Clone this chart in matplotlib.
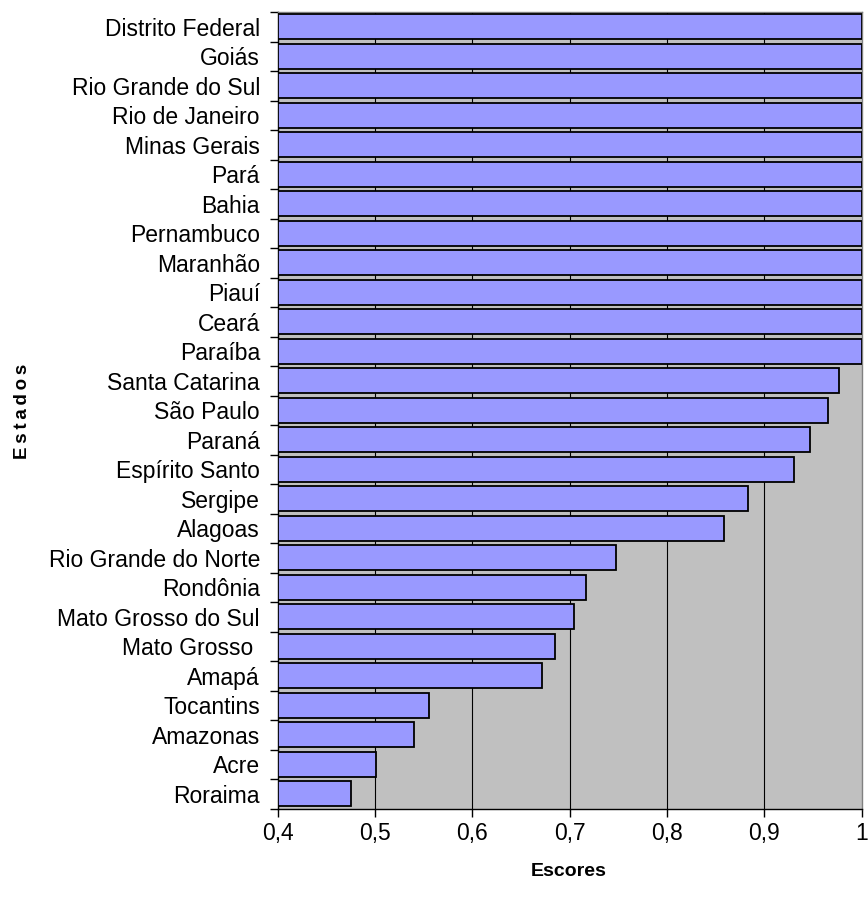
import matplotlib
matplotlib.use("Agg")
import matplotlib.pyplot as plt
import numpy as np

estados = ["Distrito Federal", "Goiás", "Rio Grande do Sul", "Rio de Janeiro",
           "Minas Gerais", "Pará", "Bahia", "Pernambuco", "Maranhão", "Piauí",
           "Ceará", "Paraíba", "Santa Catarina", "São Paulo", "Paraná",
           "Espírito Santo", "Sergipe", "Alagoas", "Rio Grande do Norte",
           "Rondônia", "Mato Grosso do Sul", "Mato Grosso ", "Amapá",
           "Tocantins", "Amazonas", "Acre", "Roraima"]
escores = [1.0, 1.0, 1.0, 1.0, 1.0, 1.0, 1.0, 1.0, 1.0, 1.0, 1.0, 1.0,
           0.977, 0.966, 0.947, 0.931, 0.883, 0.859, 0.748, 0.717, 0.704,
           0.685, 0.671, 0.555, 0.540, 0.501, 0.475]
xticks = [0.4, 0.5, 0.6, 0.7, 0.8, 0.9, 1.0]
xticklabels = ["0,4", "0,5", "0,6", "0,7", "0,8", "0,9", "1"]

plt.rcParams['font.family'] = ['Liberation Sans', 'DejaVu Sans']

fig = plt.figure(figsize=(8.68, 9.09), dpi=100)
ax = fig.add_axes([278/868, 1 - 808.5/909, (861.5-278)/868, (808.5-12)/909])
ax.set_facecolor('#C0C0C0')

n = len(estados)
y = np.arange(n)[::-1]
x0 = 0.4
ax.barh(y, np.array(escores) - x0, left=x0, height=0.86, color='#9999FF',
        edgecolor='black', linewidth=1.3, zorder=3)

ax.set_xlim(0.4, 1.0)
ax.set_ylim(-0.5, n - 0.5)
ax.set_xticks(xticks)
ax.set_xticklabels(xticklabels, fontsize=16.5)
for xv in xticks[1:-1]:
    ax.axvline(xv, color='black', linewidth=0.8, zorder=1)

# category boundaries as major ticks, labels at minor ticks
ax.set_yticks(np.arange(-0.5, n, 1.0))
ax.set_yticklabels([])
ax.set_yticks(y, minor=True)
ax.set_yticklabels(estados, minor=True, fontsize=16.5)
ax.tick_params(axis='y', which='major', direction='out', length=6, width=1, color='black')
ax.tick_params(axis='y', which='minor', length=0, pad=13)
ax.tick_params(axis='x', direction='out', length=6, width=1, pad=4)

for s in ['left', 'bottom']:
    ax.spines[s].set_color('black')
    ax.spines[s].set_linewidth(1)
for s in ['top', 'right']:
    ax.spines[s].set_color('#808080')
    ax.spines[s].set_linewidth(1)

fig.text(569/868, 1 - 871/909, "Escores", ha='center', va='center',
         fontsize=14, fontweight='bold')
fig.text(23/868, 1 - 411/909, "E\u2009s\u2009t\u2009a\u2009d\u2009o\u2009s",
         ha='center', va='center', rotation=90, fontsize=13.5, fontweight='bold')

fig.savefig("out.png", dpi=100)
